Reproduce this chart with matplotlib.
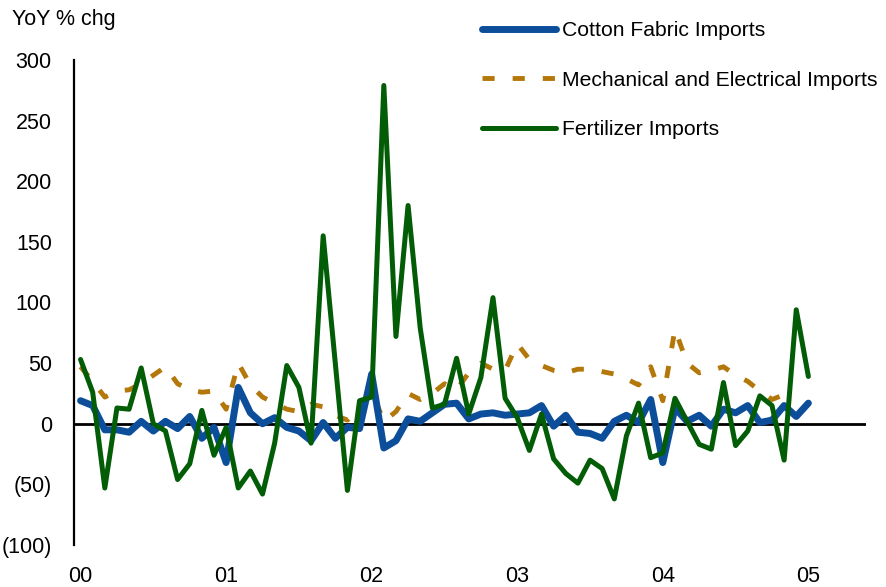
import numpy as np
import matplotlib
matplotlib.use("Agg")
import matplotlib.pyplot as plt
from matplotlib.ticker import FuncFormatter, FixedLocator

plt.rcParams['font.family'] = ['Liberation Sans', 'DejaVu Sans']

# Monthly data, Jan 2000 onward
cotton = [19, 15, -5, -5, -7, 2, -6, 2, -4, 6, -12, -3,
          -32, 30, 9, 0, 5, -3, -6, -14, 1, -12, -3, -4,
          41, -20, -14, 4, 2, 9, 16, 17, 4, 8, 9, 7,
          8, 9, 15, -2, 7, -7, -8, -12, 2, 7, 1, 20,
          -32, 13, 2, 7, -2, 12, 9, 15, 1, 3, 15, 6,
          17]
mech = [47, 35, 22, 27, 28, 33, 40, 47, 33, 28, 26, 27,
        12, 50, 32, 22, 17, 12, 10, 16, 14, 7, 3, 15,
        27, 2, 10, 25, 20, 25, 33, 28, 42, 50, 45, 44,
        66, 53, 48, 44, 42, 45, 45, 43, 41, 37, 32, 47,
        19, 78, 50, 42, 44, 47, 40, 35, 27, 20, 24, 28]
fert = [53, 26, -53, 13, 12, 46, 0, -6, -46, -33, 11, -26,
        -3, -53, -39, -58, -16, 48, 30, -16, 155, 50, -55, 19,
        22, 279, 72, 180, 79, 13, 16, 54, 8, 38, 104, 21,
        5, -22, 8, -29, -41, -49, -30, -37, -62, -10, 17, -28,
        -24, 21, 2, -17, -21, 34, -18, -6, 23, 15, -30, 94,
        39]
year_labels = ['00', '01', '02', '03', '04', '05']
series_names = ['Cotton Fabric Imports', 'Mechanical and Electrical Imports', 'Fertilizer Imports']

W, H = 886, 587
fig = plt.figure(figsize=(W / 100, H / 100), dpi=100)
ax = fig.add_axes([74 / W, 1 - 545 / H, (866 - 74) / W, (545 - 60) / H])

c_blue = '#0C4E9A'
c_orange = '#B3770A'
c_green = '#035C06'

ax.plot(np.arange(len(cotton)), cotton, color=c_blue, lw=5, solid_capstyle='round',
        solid_joinstyle='round', label=series_names[0], zorder=3)
ax.plot(np.arange(len(mech)), mech, color=c_orange, lw=3.5, dashes=(2.5, 3.7),
        dash_capstyle='butt', label=series_names[1], zorder=2)
ax.plot(np.arange(len(fert)), fert, color=c_green, lw=3.6, solid_capstyle='round',
        solid_joinstyle='round', label=series_names[2], zorder=4)

ax.axhline(0, color='black', lw=2, zorder=1)

ax.set_xlim(-0.54, 64.75)
ax.set_ylim(-100, 300)

for s in ['top', 'right', 'bottom']:
    ax.spines[s].set_visible(False)
ax.spines['left'].set_linewidth(1.6)

ax.yaxis.set_major_locator(FixedLocator([-100, -50, 0, 50, 100, 150, 200, 250, 300]))
ax.yaxis.set_major_formatter(FuncFormatter(lambda v, p: f'({int(abs(v))})' if v < 0 else f'{int(v)}'))
ax.set_xticks(np.arange(0, 61, 12))
ax.set_xticklabels(year_labels)
ax.tick_params(axis='y', length=0, pad=16, labelsize=15.5)
ax.tick_params(axis='x', length=0, pad=15, labelsize=15.5)

fig.text(12 / W, 1 - 20 / H, 'YoY % chg', fontsize=15.5, va='center', ha='left')

leg = fig.legend(loc='upper left', bbox_to_anchor=(482 / W, 1 - 21 / H), frameon=False,
                 fontsize=15.2, handlelength=3.5, handletextpad=0.3, labelspacing=1.45,
                 borderpad=0, borderaxespad=0)

fig.savefig('out.png', dpi=100)
